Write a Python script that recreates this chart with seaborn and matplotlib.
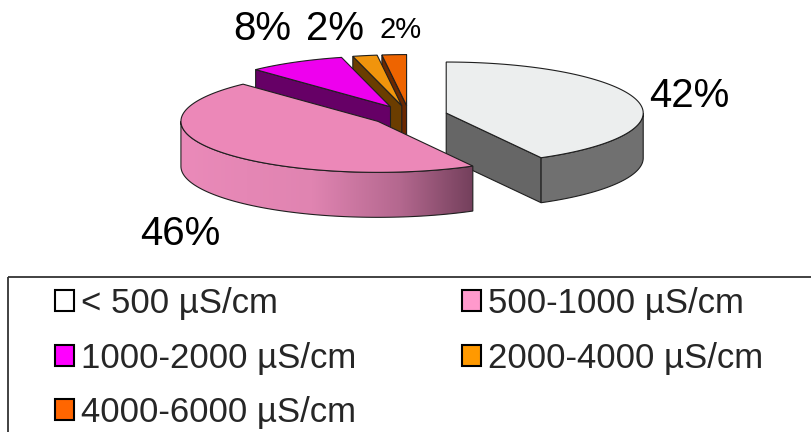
import numpy as np
import matplotlib
matplotlib.use("Agg")
import matplotlib.pyplot as plt
import seaborn as sns
from matplotlib.patches import Polygon, Rectangle, Patch
from matplotlib.colors import LinearSegmentedColormap

# Conductivity classes and their share of samples (%)
categories = ["< 500 µS/cm", "500-1000 µS/cm", "1000-2000 µS/cm",
              "2000-4000 µS/cm", "4000-6000 µS/cm"]
shares = [42, 46, 8, 2, 2]
pct_labels = ["42%", "46%", "8%", "2%", "2%"]

# Colours: legend swatches, slice tops, and the darker cut faces / walls
legend_colors = ["#FFFFFF", "#FF99CC", "#FF00FF", "#FF9900", "#FF6600"]
top_colors = ["#ECEEEE", "#EC88B8", "#EE00EE", "#F0940C", "#EE6400"]
face_colors = ["#666666", "#8A4A6A", "#660066", "#6B3D00", "#6B2800"]
wall_colors = ["#707070", None, "#660066", "#6B3D00", "#6B2800"]

sns.set_theme(style="white")
plt.rcParams["font.family"] = ["Liberation Sans", "DejaVu Sans"]

W, H = 811, 432
fig = plt.figure(figsize=(W / 100, H / 100), dpi=100)
ax = fig.add_axes([0, 0, 1, 1])

# 3-D pie geometry (screen units): centre, radii of the top ellipse, thickness
CX, CY = 409, 115.5
RX, RY = 197, 51
DEPTH = 45
EXPLODE = 0.195
EDGE = "#1f1f1f"
LW = 0.8

total = float(sum(shares))
bounds = np.concatenate([[0.0], np.cumsum(shares)]) / total * 360.0
mids = 0.5 * (bounds[:-1] + bounds[1:])


def rim(apex, t0, t1, dz=0.0, n=90):
    th = np.radians(np.linspace(t0, t1, n))
    return np.column_stack([apex[0] + RX * np.sin(th),
                            apex[1] - RY * np.cos(th) + dz])


pink_cmap = LinearSegmentedColormap.from_list(
    "pinkwall", [(0.0, "#EA8AB9"), (0.45, "#E084B1"),
                 (0.75, "#B4688F"), (1.0, "#74405C")])

# paint from the back of the pie towards the viewer
order = sorted(range(len(shares)), key=lambda i: -np.cos(np.radians(mids[i])))
z = 2
for i in order:
    t0, t1, m = bounds[i], bounds[i + 1], mids[i]
    mr = np.radians(m)
    apex = np.array([CX + EXPLODE * RX * np.sin(mr),
                     CY - EXPLODE * RY * np.cos(mr)])

    # radial cut faces that turn towards the viewer
    cut = []
    if np.sin(np.radians(t0)) < -1e-9:
        cut.append(t0)
    if np.sin(np.radians(t1)) > 1e-9:
        cut.append(t1)
    for t in cut:
        p = rim(apex, t, t, n=1)[0]
        quad = [apex, p, (p[0], p[1] + DEPTH), (apex[0], apex[1] + DEPTH)]
        ax.add_patch(Polygon(quad, closed=True, fc=face_colors[i],
                             ec=EDGE, lw=LW, zorder=z))

    # curved outer wall on the front half
    w0, w1 = max(t0, 90.0), min(t1, 270.0)
    if w1 > w0:
        pts = np.vstack([rim(apex, w0, w1), rim(apex, w1, w0, dz=DEPTH)])
        if wall_colors[i] is None:
            wall = Polygon(pts, closed=True, fc="none", ec=EDGE, lw=LW,
                           zorder=z + 0.2)
            ax.add_patch(wall)
            x0, x1 = pts[:, 0].min(), pts[:, 0].max()
            y0, y1 = pts[:, 1].min(), pts[:, 1].max()
            # shade darkens towards the right-hand end of the wall
            grad = np.linspace(0, 1, 256)[None, :]
            im = ax.imshow(grad, cmap=pink_cmap, extent=(x0, x1, y1, y0),
                           aspect="auto", zorder=z + 0.1, interpolation="bilinear")
            clip = Polygon(pts, closed=True, transform=ax.transData)
            im.set_clip_path(clip)
        else:
            ax.add_patch(Polygon(pts, closed=True, fc=wall_colors[i],
                                 ec=EDGE, lw=LW, zorder=z))

    # top face
    top = np.vstack([apex, rim(apex, t0, t1)])
    ax.add_patch(Polygon(top, closed=True, fc=top_colors[i], ec=EDGE,
                         lw=LW, zorder=z + 0.5))
    z += 1

# percentage labels around the pie
label_xy = [(689, 107), (180, 245), (262, 40), (335, 40), (401, 38)]
label_size = [29, 29, 29, 29, 21]
for txt, (lx, ly), fs in zip(pct_labels, label_xy, label_size):
    ax.text(lx, ly, txt, ha="center", va="baseline", fontsize=fs,
            color="black", zorder=20)

ax.set_xlim(0, W)
ax.set_ylim(H, 0)
ax.axis("off")

# legend frame running off the lower right of the canvas
ax.add_patch(Rectangle((8, 277), 900, 300, fill=False, ec="#333333",
                       lw=1.3, zorder=1))

handles = [Patch(facecolor=c, edgecolor="black", linewidth=1.5)
           for c in legend_colors]
row_order = [0, 2, 4, 1, 3]
fig.legend([handles[k] for k in row_order], [categories[k] for k in row_order],
           ncol=2, loc="upper left", bbox_to_anchor=(55 / W, 1 - 287 / H),
           frameon=False, fontsize=25, handlelength=0.55, handleheight=0.55,
           handletextpad=0.2, columnspacing=3.05, labelspacing=0.62,
           borderpad=0, borderaxespad=0)

fig.savefig("out.png", dpi=100, facecolor="white")
